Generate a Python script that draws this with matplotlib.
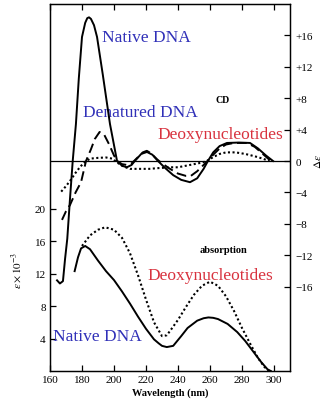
import numpy as np
import matplotlib
matplotlib.use('Agg')
import matplotlib.pyplot as plt

plt.rcParams['font.family'] = ['Liberation Serif', 'DejaVu Serif']
plt.rcParams['mathtext.fontset'] = 'stix'

# CD spectra (delta epsilon)
cd_native_wl = [164.4, 166.2, 168.1, 169.4, 170.8, 172.5, 174.2, 176.2, 178, 180, 182, 183.3, 184.4,
                185.6, 187.5, 189.4, 193, 197.5, 201.9, 205, 208, 211, 213, 217, 220.6, 224, 227.5,
                232, 237, 242, 247.5, 252, 256, 258.7, 262, 266, 270.6, 278, 285, 290, 295, 299.4]
cd_native = [-15.2, -15.6, -15.3, -12.5, -9.9, -4.8, 0, 4.7, 10.5, 15.8, 17.6, 18.2, 18.3,
             18.1, 17.3, 15.8, 11, 4.7, 0, -0.6, -0.8, -0.5, 0, 0.9, 1.15, 0.8, 0,
             -0.9, -1.8, -2.4, -2.7, -2.2, -1.0, 0, 1.1, 1.9, 2.3, 2.35, 2.3, 1.6, 0.7, 0]

cd_denat_wl = [167.5, 170, 172.5, 176, 179.4, 182.5, 185.6, 188, 191, 194, 197, 200, 202,
               205, 208, 211, 214, 218, 220.5, 223, 227, 230, 235, 240, 245, 248, 252,
               256, 258.5, 262, 266, 270, 275, 283, 288, 293, 298]
cd_denat = [-7.5, -6.4, -5.6, -4.0, -2.7, 0, 1.5, 2.8, 3.7, 3.3, 2.1, 0.7, 0,
            -0.4, -0.5, -0.3, 0.3, 1.1, 1.3, 1.0, 0.2, -0.3, -1.0, -1.6, -1.9, -1.9, -1.3,
            -0.5, 0, 0.8, 1.6, 2.1, 2.3, 2.3, 1.8, 0.9, 0]

cd_nucl_wl = [167, 170, 173, 176, 179, 182, 185, 190, 195, 199, 202, 206, 210, 216, 222,
              228, 235, 240, 245, 250, 255, 258, 262, 266, 270, 276, 282, 288, 293, 297]
cd_nucl = [-3.9, -3.2, -2.4, -1.5, -0.7, -0.1, 0.3, 0.4, 0.45, 0.3, -0.2, -0.7, -1.0, -1.0, -1.0,
           -0.9, -0.8, -0.8, -0.6, -0.4, -0.2, 0, 0.5, 0.9, 1.1, 1.1, 0.9, 0.6, 0.3, 0]

# absorption spectra (epsilon x 1e-3)
abs_native_wl = [175.4, 177.5, 179.4, 182, 185, 190, 195, 200, 205, 210, 215, 220, 225, 228, 230,
                 233, 237, 242, 246, 252, 256, 259, 262, 265, 271, 277, 282, 287, 292, 296, 298]
abs_native = [12.3, 14.0, 15.1, 15.4, 15.0, 13.6, 12.3, 11.2, 9.8, 8.3, 6.7, 5.2, 3.9, 3.4, 3.1,
              2.95, 3.1, 4.3, 5.3, 6.2, 6.5, 6.6, 6.55, 6.4, 5.8, 4.8, 3.7, 2.4, 1.1, 0.2, 0]

abs_nucl_wl = [180, 185, 190, 194.5, 200, 205, 210, 215, 220, 225, 230, 233, 236, 240, 245,
               250, 255, 260, 265, 270, 275, 280, 285, 290, 294, 297]
abs_nucl = [15.4, 16.7, 17.4, 17.7, 17.4, 16.4, 14.5, 11.8, 8.8, 6.0, 4.3, 4.4, 5.2, 6.3, 7.9,
            9.4, 10.5, 11.0, 10.5, 9.2, 7.4, 5.3, 3.4, 1.6, 0.5, 0]

x_ticks = [160, 180, 200, 220, 240, 260, 280, 300]
abs_ticks = [4, 8, 12, 16, 20]
cd_ticks = [16, 12, 8, 4, 0, -4, -8, -12, -16]
cd_labels = ['+16', '+12', '+8', '+4', '0', '\u22124', '\u22128', '\u221212', '\u221216']

blue = '#3030b8'
red = '#d8323e'

fig = plt.figure(figsize=(3.3, 4.06), dpi=100)
ax = fig.add_axes([0.1515, 0.0837, 0.7273, 0.904])
ax2 = ax.twinx()

ax.plot(abs_native_wl, abs_native, color='black', lw=1.4)
ax.plot(abs_nucl_wl, abs_nucl, color='black', lw=1.5, ls=(0, (1, 1.2)))

ax2.axhline(0, color='black', lw=0.9)
ax2.plot(cd_native_wl, cd_native, color='black', lw=1.4)
ax2.plot(cd_denat_wl, cd_denat, color='black', lw=1.4, ls=(0, (5, 2.5)))
ax2.plot(cd_nucl_wl, cd_nucl, color='black', lw=1.5, ls=(0, (1, 1.2)))

ax.set_xlim(160, 310)
ax.set_ylim(0, 45.2)
ax2.set_ylim(-26.75, 20.0)

ax.set_xticks(x_ticks)
ax.set_yticks(abs_ticks)
ax2.set_yticks(cd_ticks)
ax2.set_yticklabels(cd_labels)

ax.tick_params(axis='both', direction='in', length=4, width=0.9, labelsize=8, pad=3)
ax.tick_params(axis='x', top=True)
ax2.tick_params(axis='y', direction='in', length=4, width=0.9, labelsize=8, pad=4)
for a in (ax, ax2):
    for s in a.spines.values():
        s.set_linewidth(0.9)

ax.set_xlabel('Wavelength (nm)', fontsize=7.5, fontweight='bold', labelpad=2)
ax.text(-0.14, 0.278, r'$\epsilon\times10^{-3}$', transform=ax.transAxes, rotation=90,
        ha='center', va='center', fontsize=8)
ax.text(1.115, 0.572, r'$\Delta\epsilon$', transform=ax.transAxes, rotation=90,
        ha='center', va='center', fontsize=8)

ax.text(0.217, 0.910, 'Native DNA', color=blue, fontsize=12.5, transform=ax.transAxes, va='center')
ax.text(0.1375, 0.706, 'Denatured DNA', color=blue, fontsize=12.5, transform=ax.transAxes, va='center')
ax.text(0.446, 0.646, 'Deoxynucleotides', color=red, fontsize=12.5, transform=ax.transAxes, va='center')
ax.text(0.721, 0.741, 'CD', fontsize=7, fontweight='bold', transform=ax.transAxes,
        ha='center', va='center')
ax.text(0.721, 0.330, 'absorption', fontsize=7.5, fontweight='bold', transform=ax.transAxes,
        ha='center', va='center')
ax.text(0.408, 0.262, 'Deoxynucleotides', color=red, fontsize=12.5, transform=ax.transAxes, va='center')
ax.text(0.0125, 0.095, 'Native DNA', color=blue, fontsize=12.5, transform=ax.transAxes, va='center')

fig.savefig('out.png', dpi=100)
